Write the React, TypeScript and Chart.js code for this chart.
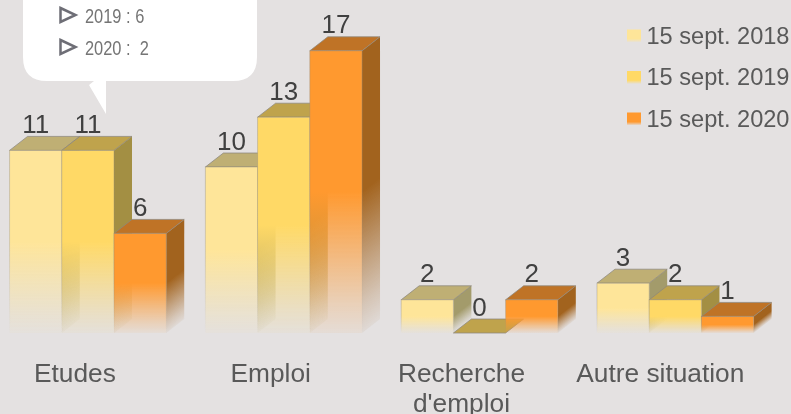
import React, { useEffect, useRef } from "react";
import { Chart, registerables } from "chart.js";

Chart.register(...registerables);

const categories: (string | string[])[] = ["Etudes", "Emploi", ["Recherche", "d'emploi"], "Autre situation"];
const seriesLabels = ["15 sept. 2018", "15 sept. 2019", "15 sept. 2020"];
const values2018 = [11, 10, 2, 3];
const values2019 = [11, 13, 0, 2];
const values2020 = [6, 17, 2, 1];
const frontColors = ["254,229,153", "255,217,102", "255,153,47"];
const topColors = ["#BFAF74", "#BFA34C", "#BF7326"];
const sideColors = ["163,155,107", "163,143,67", "162,99,30"];
const calloutLines = ["2019 : 6", "2020 :  2"];

const DX = 18;
const DY = 14;
const SHIFT = 10;
const FONT = '"Liberation Sans", Arial, sans-serif';
const tickNudges = [0, 0, -5, -2];

const fadeStops: [number, number][] = [
  [0, 1],
  [0.5, 1],
  [0.56, 0.88],
  [0.75, 0.5],
  [0.9, 0.22],
  [1, 0.06],
];

function applyStops(g: CanvasGradient, rgb: string) {
  fadeStops.forEach(([t, a]) => g.addColorStop(t, `rgba(${rgb},${a})`));
  return g;
}

function frontGradient(c: any) {
  const chart = c.chart;
  const yScale = chart.scales?.y;
  const rgb = frontColors[c.datasetIndex];
  if (!yScale || c.raw === undefined) return `rgb(${rgb})`;
  const top = yScale.getPixelForValue(c.raw);
  const base = yScale.getPixelForValue(0);
  if (!Number.isFinite(top) || !Number.isFinite(base) || base - top < 1) return `rgb(${rgb})`;
  return applyStops(chart.ctx.createLinearGradient(0, top, 0, base), rgb);
}

const bars3dPlugin = {
  id: "bars3d",
  beforeDraw(chart: any) {
    chart.scales.x.getLabelItems().forEach((item: any, i: number) => {
      item.options.translation[0] = chart.scales.x.getPixelForTick(i) - 13 + tickNudges[i];
    });
  },
  beforeDatasetsDraw(chart: any) {
    const ctx: CanvasRenderingContext2D = chart.ctx;
    const metas = [...chart.getSortedVisibleDatasetMetas()].sort((a: any, b: any) => a.index - b.index);
    metas.forEach((meta: any) => {
      meta.data.forEach((bar: any) => {
        const { x, y, base, width } = bar.getProps(["x", "y", "base", "width"], true);
        const left = x - width / 2;
        const right = x + width / 2;
        const h = base - y;
        if (h > 0.5) {
          const k = DY / DX;
          const f = h / (1 + k * k);
          const g = ctx.createLinearGradient(right, y, right + k * f, y + f);
          applyStops(g, sideColors[meta.index]);
          ctx.fillStyle = g;
          ctx.beginPath();
          ctx.moveTo(right, y);
          ctx.lineTo(right + DX, y - DY);
          ctx.lineTo(right + DX, base - DY);
          ctx.lineTo(right, base);
          ctx.closePath();
          ctx.fill();
        }
        ctx.fillStyle = topColors[meta.index];
        ctx.strokeStyle = "rgba(140,135,125,0.75)";
        ctx.lineWidth = 1;
        ctx.beginPath();
        ctx.moveTo(left, y);
        ctx.lineTo(left + DX, y - DY);
        ctx.lineTo(right + DX, y - DY);
        ctx.lineTo(right, y);
        ctx.closePath();
        ctx.fill();
        ctx.stroke();
      });
      meta.controller.draw();
      meta.data.forEach((bar: any) => {
        const { x, y, base, width } = bar.getProps(["x", "y", "base", "width"], true);
        if (base - y < 0.5) return;
        const g = ctx.createLinearGradient(0, y, 0, base);
        g.addColorStop(0, "rgba(140,135,125,0.4)");
        g.addColorStop(0.5, "rgba(140,135,125,0.3)");
        g.addColorStop(1, "rgba(140,135,125,0)");
        ctx.strokeStyle = g;
        ctx.lineWidth = 1;
        ctx.strokeRect(x - width / 2, y, width, base - y);
      });
    });
    // value labels
    ctx.save();
    ctx.font = `26px ${FONT}`;
    ctx.fillStyle = "#404040";
    ctx.textAlign = "center";
    ctx.textBaseline = "alphabetic";
    metas.forEach((meta: any) => {
      const data = chart.data.datasets[meta.index].data;
      meta.data.forEach((bar: any, i: number) => {
        ctx.fillText(String(data[i]), bar.x, bar.y - 17.5);
      });
    });
    ctx.restore();
    return false;
  },
  afterDraw(chart: any) {
    const ctx: CanvasRenderingContext2D = chart.ctx;
    ctx.save();
    ctx.translate(SHIFT, 0);
    // legend
    ctx.font = `23.6px ${FONT}`;
    ctx.textAlign = "left";
    ctx.textBaseline = "alphabetic";
    chart.data.datasets.forEach((ds: any, i: number) => {
      const baseline = 43.5 + i * 41.5;
      const top = baseline - 14;
      const g = ctx.createLinearGradient(0, top, 0, top + 13);
      g.addColorStop(0, `rgb(${frontColors[i]})`);
      g.addColorStop(0.72, `rgb(${frontColors[i]})`);
      g.addColorStop(1, `rgba(${frontColors[i]},0)`);
      ctx.fillStyle = g;
      ctx.fillRect(627, top, 14, 13);
      ctx.fillStyle = "#595959";
      ctx.fillText(ds.label, 646.5, baseline);
    });
    // callout
    ctx.fillStyle = "#FFFFFF";
    ctx.beginPath();
    ctx.moveTo(23, -40);
    ctx.lineTo(257, -40);
    ctx.lineTo(257, 57);
    ctx.quadraticCurveTo(257, 81, 233, 81);
    ctx.lineTo(106, 81);
    ctx.lineTo(106, 114);
    ctx.lineTo(89, 85);
    ctx.lineTo(94, 81);
    ctx.lineTo(47, 81);
    ctx.quadraticCurveTo(23, 81, 23, 57);
    ctx.closePath();
    ctx.fill();
    ctx.font = `20px ${FONT}`;
    calloutLines.forEach((line, i) => {
      const baseline = 22.5 + i * 32;
      ctx.strokeStyle = "#6E6E76";
      ctx.lineWidth = 2.5;
      ctx.lineJoin = "miter";
      ctx.beginPath();
      ctx.moveTo(60.5, baseline - 14.5);
      ctx.lineTo(75.5, baseline - 7.5);
      ctx.lineTo(60.5, baseline - 0.5);
      ctx.closePath();
      ctx.stroke();
      ctx.fillStyle = "#757575";
      ctx.save();
      ctx.translate(85, baseline);
      ctx.scale(0.82, 1);
      ctx.fillText(line, 0, 0);
      ctx.restore();
    });
    ctx.restore();
  },
};

export default function App() {
  const ref = useRef<HTMLCanvasElement>(null);
  useEffect(() => {
    document.body.style.margin = "0";
    const allValues = [values2018, values2019, values2020];
    const chart = new Chart(ref.current as HTMLCanvasElement, {
      type: "bar",
      data: {
        labels: categories as any,
        datasets: allValues.map((data, i) => ({
          label: seriesLabels[i],
          data,
          backgroundColor: frontGradient as any,
          borderWidth: 0,
          inflateAmount: 0,
        })) as any,
      },
      options: {
        responsive: false,
        animation: false,
        layout: { padding: { left: 0, right: 17.8, top: 1, bottom: 0 } },
        categoryPercentage: 0.8,
        barPercentage: 1,
        plugins: { legend: { display: false }, tooltip: { enabled: false } },
        scales: {
          x: {
            grid: { display: false },
            border: { display: false },
            afterFit: (axis: any) => {
              axis.height = 81;
            },
            ticks: {
              maxRotation: 0,
              autoSkip: false,
              padding: 19,
              color: "#595959",
              font: { family: FONT, size: 26.3, lineHeight: 1.13 },
            },
          },
          y: { display: false, min: 0, max: 20 },
        },
      } as any,
      plugins: [bars3dPlugin],
    });
    return () => chart.destroy();
  }, []);
  return (
    <div style={{ position: "fixed", left: 0, top: 0, width: 791, height: 414, background: "#E4E1E1", overflow: "hidden" }}>
      <canvas ref={ref} width={791 + SHIFT} height={414} style={{ display: "block", marginLeft: -SHIFT }} />
    </div>
  );
}
